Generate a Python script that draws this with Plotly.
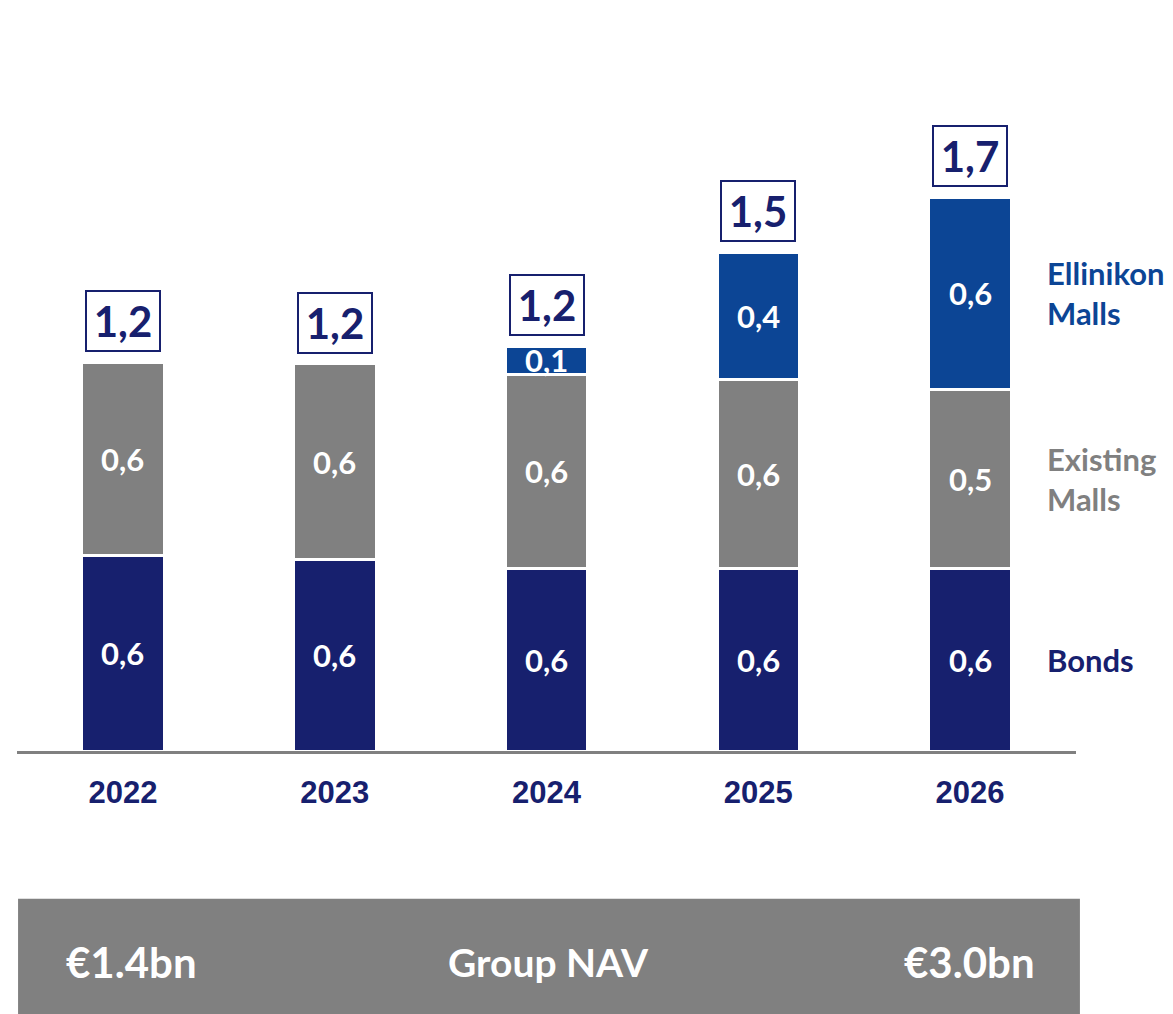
import plotly.graph_objects as go

years = ["2022", "2023", "2024", "2025", "2026"]
bonds = [0.602, 0.587, 0.562, 0.562, 0.562]
existing_malls = [0.593, 0.602, 0.596, 0.578, 0.549]
ellinikon_malls = [0.0, 0.0, 0.085, 0.393, 0.59]
series_names = ["Bonds", "Existing Malls", "Ellinikon Malls"]
series_labels = ["Bonds", "Existing<br>Malls", "Ellinikon<br>Malls"]
nav_start = "€1.4bn"
nav_label = "Group NAV"
nav_end = "€3.0bn"

NAVY = "#17206e"
GRAY = "#808080"
BLUE = "#0c4595"
FONT = "Lato"

series = [bonds, existing_malls, ellinikon_malls]
colors = [NAVY, GRAY, BLUE]
x = list(range(len(years)))

fig = go.Figure()
for name, vals, col in zip(series_names, series, colors):
    fig.add_trace(go.Bar(
        x=x, y=vals, name=name, width=0.39,
        marker=dict(color=col, line=dict(color="white", width=3)),
        hoverinfo="skip",
    ))

def fmt(v):
    return f"{v:.1f}".replace(".", ",")

annotations = []
for i in x:
    base = 0.0
    for vals in series:
        v = vals[i]
        if v > 0:
            annotations.append(dict(
                x=i, y=base + v / 2, xref="x", yref="y", text=f"<b>{fmt(v)}</b>",
                showarrow=False, yanchor="middle",
                font=dict(family=FONT, size=31, color="white"),
            ))
        base += v
    annotations.append(dict(
        x=i, y=base, xref="x", yref="y", text=f"<b>{fmt(base)}</b>",
        showarrow=False, yanchor="bottom", yshift=10,
        font=dict(family=FONT, size=42, color=NAVY),
        bgcolor="white", bordercolor=NAVY, borderwidth=2, borderpad=2,
        width=68, height=54,
    ))

last = len(years) - 1
base = 0.0
for lab, vals, col in zip(series_labels, series, colors):
    v = vals[last]
    annotations.append(dict(
        x=0.971, y=base + v / 2, xref="paper", yref="y", text=f"<b>{lab}</b>",
        showarrow=False, xanchor="left", yanchor="middle", align="left",
        font=dict(family=FONT, size=31, color=col),
    ))
    base += v

annotations += [
    dict(x=0.044, y=-0.324, xref="paper", yref="paper", text=f"<b>{nav_start}</b>",
         showarrow=False, xanchor="left", yanchor="middle",
         font=dict(family=FONT, size=42, color="white")),
    dict(x=0.502, y=-0.324, xref="paper", yref="paper", text=f"<b>{nav_label}</b>",
         showarrow=False, xanchor="center", yanchor="middle",
         font=dict(family=FONT, size=39, color="white")),
    dict(x=0.963, y=-0.324, xref="paper", yref="paper", text=f"<b>{nav_end}</b>",
         showarrow=False, xanchor="right", yanchor="middle",
         font=dict(family=FONT, size=42, color="white")),
]

fig.update_layout(
    barmode="stack",
    width=1165, height=1006,
    margin=dict(l=9, r=97, t=92, b=263),
    plot_bgcolor="white", paper_bgcolor="white",
    showlegend=False,
    annotations=annotations,
    shapes=[dict(type="rect", xref="paper", yref="paper",
                 x0=0.001, x1=1.0037, y0=-0.42, y1=-0.227,
                 fillcolor=GRAY, line=dict(width=0), layer="below")],
)
fig.update_xaxes(
    range=[-0.5, len(years) - 0.5], tickmode="array", tickvals=x,
    ticktext=[f"<b>{y}</b>" for y in years],
    tickfont=dict(family="Liberation Sans", size=31, color=NAVY),
    showline=True, linecolor=GRAY, linewidth=3, showgrid=False, zeroline=False,
    ticks="", ticklabelstandoff=12,
)
fig.update_yaxes(range=[0, 2.0], visible=False, showgrid=False, zeroline=False)

fig.write_html("out.html")
